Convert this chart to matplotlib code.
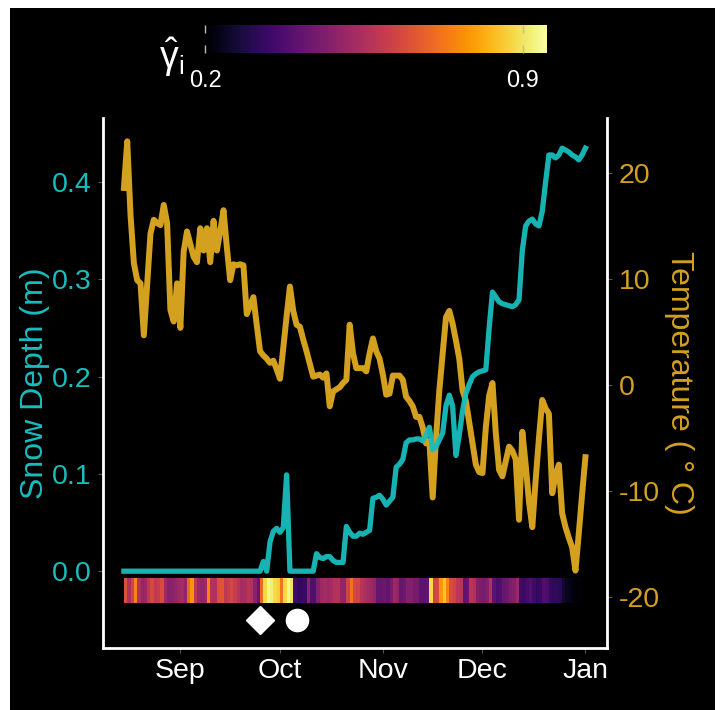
import numpy as np
import matplotlib
matplotlib.use("Agg")
from matplotlib import pyplot as plt
import matplotlib.dates as mdates
from matplotlib.patches import Rectangle
from matplotlib.colors import Normalize
from matplotlib.cm import ScalarMappable

plt.rcParams['font.family'] = ['Liberation Sans', 'DejaVu Sans']
plt.rcParams['mathtext.fontset'] = 'custom'
plt.rcParams['mathtext.rm'] = 'Liberation Sans'
plt.rcParams['mathtext.it'] = 'Liberation Sans:italic'
plt.rcParams['axes.unicode_minus'] = False

# daily series, 15 Aug -> 1 Jan
start = np.datetime64('2019-08-15')

snow_depth = [0.0, 0.0, 0.0, 0.0, 0.0, 0.0, 0.0, 0.0, 0.0, 0.0,
              0.0, 0.0, 0.0, 0.0, 0.0, 0.0, 0.0, 0.0, 0.0, 0.0,
              0.0, 0.0, 0.0, 0.0, 0.0, 0.0, 0.0, 0.0, 0.0, 0.0,
              0.0, 0.0, 0.0, 0.0, 0.0, 0.0, 0.0, 0.0, 0.0, 0.0,
              0.0, 0.0, 0.010, 0.0, 0.030, 0.041, 0.044, 0.040, 0.045, 0.099,
              0.0, 0.0, 0.0, 0.0, 0.0, 0.0, 0.0, 0.0, 0.018, 0.014,
              0.013, 0.015, 0.015, 0.011, 0.009, 0.009, 0.009, 0.046, 0.040, 0.036,
              0.036, 0.039, 0.038, 0.040, 0.042, 0.075, 0.076, 0.078, 0.074, 0.068,
              0.072, 0.076, 0.107, 0.110, 0.115, 0.132, 0.135, 0.135, 0.136, 0.136,
              0.134, 0.140, 0.148, 0.125, 0.128, 0.135, 0.142, 0.170, 0.181, 0.170,
              0.119, 0.140, 0.165, 0.183, 0.192, 0.200, 0.203, 0.205, 0.206, 0.207,
              0.250, 0.287, 0.282, 0.277, 0.275, 0.274, 0.273, 0.272, 0.274, 0.279,
              0.330, 0.355, 0.360, 0.362, 0.357, 0.355, 0.370, 0.400, 0.428, 0.428,
              0.425, 0.428, 0.435, 0.433, 0.431, 0.428, 0.426, 0.423, 0.428, 0.435]

temperature = [18.6, 23.0, 16.0, 11.5, 9.9, 9.6, 4.7, 9.5, 14.3, 15.6,
               15.3, 15.1, 17.0, 15.3, 7.1, 6.0, 9.6, 5.4, 12.6, 14.5,
               13.3, 12.1, 11.6, 14.8, 12.7, 14.8, 11.6, 15.5, 12.7, 14.5,
               16.5, 13.0, 9.9, 11.4, 11.3, 11.4, 11.3, 6.7, 7.5, 8.3,
               5.7, 3.2, 2.8, 2.5, 2.1, 2.3, 1.5, 0.6, 3.5, 6.5,
               9.3, 7.0, 5.7, 5.5, 4.3, 3.2, 2.0, 0.8, 0.9, 1.0,
               0.7, 1.1, -2.0, -0.6, -0.4, -0.2, 0.2, 0.5, 5.7, 3.0,
               1.6, 1.6, 1.6, 1.3, 3.0, 4.4, 3.2, 2.5, 1.0, -0.9,
               -0.8, 0.9, 0.9, 0.9, 0.5, -1.1, -1.5, -2.0, -3.0, -3.0,
               -4.0, -5.5, -5.3, -10.6, -5.0, -0.5, 3.0, 6.4, 7.0, 5.8,
               4.2, 2.5, -0.5, -1.5, -3.5, -5.5, -7.5, -8.2, -8.3, -4.0,
               -1.0, 0.2, -4.5, -8.0, -8.6, -7.2, -5.8, -6.2, -7.0, -12.7,
               -4.4, -7.5, -11.0, -13.4, -9.0, -5.0, -1.4, -2.2, -2.7, -10.2,
               -8.5, -7.5, -12.1, -13.4, -14.4, -15.3, -17.5, -14.0, -10.3, -6.8]

# one value per day cell of the strip
gamma_hat = [0.65, 0.55, 0.62, 0.75, 0.55, 0.50, 0.52, 0.58, 0.63, 0.58,
             0.60, 0.64, 0.52, 0.48, 0.48, 0.50, 0.52, 0.53, 0.50, 0.70,
             0.78, 0.58, 0.52, 0.50, 0.52, 0.75, 0.56, 0.55, 0.65, 0.66,
             0.58, 0.60, 0.63, 0.60, 0.57, 0.53, 0.54, 0.57, 0.56, 0.48,
             0.42, 0.70, 0.88, 0.93, 0.92, 0.88, 0.86, 0.72, 0.88, 0.93,
             0.90, 0.35, 0.33, 0.33, 0.34, 0.48, 0.38, 0.38, 0.47, 0.52,
             0.53, 0.52, 0.53, 0.56, 0.56, 0.50, 0.50, 0.62, 0.72, 0.63,
             0.62, 0.57, 0.55, 0.53, 0.52, 0.50, 0.42, 0.42, 0.43, 0.41,
             0.45, 0.52, 0.50, 0.42, 0.43, 0.47, 0.47, 0.45, 0.45, 0.40,
             0.40, 0.41, 0.88, 0.62, 0.63, 0.78, 0.85, 0.75, 0.64, 0.62,
             0.58, 0.57, 0.40, 0.42, 0.57, 0.55, 0.47, 0.46, 0.45, 0.47,
             0.56, 0.40, 0.37, 0.38, 0.42, 0.43, 0.46, 0.47, 0.52, 0.35,
             0.34, 0.36, 0.38, 0.35, 0.33, 0.34, 0.38, 0.37, 0.33, 0.32,
             0.32, 0.31, 0.26, 0.24, 0.23, 0.22, 0.21, 0.21, 0.20]

diamond_date = np.datetime64('2019-09-25')
circle_date = np.datetime64('2019-10-06')
event_level = -0.05

month_ticks = ['2019-09-01', '2019-10-01', '2019-11-01', '2019-12-01', '2020-01-01']
month_labels = ['Sep', 'Oct', 'Nov', 'Dec', 'Jan']

gamma_min, gamma_max = 0.2, 0.953

snow_col = '#19BDBD'
temp_col = '#D4A020'

days = mdates.date2num(start + np.arange(len(snow_depth)))
edges = mdates.date2num(start + np.arange(len(gamma_hat) + 1))
t0 = mdates.date2num(start)

fig = plt.figure(figsize=(7.2, 7.1), dpi=100, facecolor='white')
fig.add_artist(Rectangle((10 / 720, 0), 705 / 720, 702 / 710, transform=fig.transFigure,
                         facecolor='black', edgecolor='none', zorder=-10))

ax = fig.add_axes([103 / 720, 1 - 648 / 710, 504 / 720, 530 / 710])
ax2 = ax.twinx()
ax.set_zorder(ax2.get_zorder() + 1)
ax.patch.set_visible(False)
ax2.patch.set_visible(False)

norm = Normalize(vmin=gamma_min, vmax=gamma_max)

ax2.plot(days, temperature, color=temp_col, lw=4.3, solid_joinstyle='round')
ax.plot(days, snow_depth, color=snow_col, lw=3.8, solid_joinstyle='round', alpha=0.95)
ax.pcolormesh(edges, [-0.033, -0.0075], [gamma_hat], cmap='inferno', norm=norm)
ax.plot([mdates.date2num(diamond_date)], [event_level], marker='D', ms=14, color='white', ls='none')
ax.plot([mdates.date2num(circle_date)], [event_level], marker='o', ms=16, color='white', ls='none')

ax.set_xlim(t0 - 6.3, t0 + 145.5)
ax.set_ylim(-0.079, 0.466)
ax2.set_ylim(-24.8, 25.2)

ax.set_xticks(mdates.date2num(np.array(month_ticks, dtype='datetime64[D]')))
ax.set_xticklabels(month_labels)
ax.set_yticks([0.0, 0.1, 0.2, 0.3, 0.4])
ax.set_yticklabels(['0.0', '0.1', '0.2', '0.3', '0.4'])
ax2.set_yticks([-20, -10, 0, 10, 20])

for a in (ax, ax2):
    for s in a.spines.values():
        s.set_visible(False)
ax.spines['left'].set_visible(True)
ax.spines['bottom'].set_visible(True)
ax2.spines['right'].set_visible(True)
for s in (ax.spines['left'], ax.spines['bottom'], ax2.spines['right']):
    s.set_color('white')
    s.set_linewidth(2)

ax.tick_params(axis='x', color='#555555', labelcolor='white', labelsize=20.5, length=3.5, pad=4)
ax.tick_params(axis='y', color='#555555', labelcolor=snow_col, labelsize=20.5, length=3.5, pad=5)
ax2.tick_params(axis='y', color='#555555', labelcolor=temp_col, labelsize=20.5, length=3.5, pad=5)

ax.set_ylabel('Snow Depth (m)', color=snow_col, fontsize=23, labelpad=1)
ax2.set_ylabel('Temperature ( ° C)', color=temp_col, fontsize=23, rotation=-90, va='bottom', labelpad=3)

# colour key on top
cax = fig.add_axes([205 / 720, 1 - 53 / 710, 342 / 720, 28 / 710])
cb = fig.colorbar(ScalarMappable(norm=norm, cmap='inferno'), cax=cax, orientation='horizontal')
cb.set_ticks([0.2, 0.9])
cb.set_ticklabels(['0.2', '0.9'])
cb.outline.set_visible(False)
cax.tick_params(axis='x', direction='in', length=6, width=1, color='#bbbbbb', top=True,
                labelcolor='white', labelsize=17, pad=12)
fig.text(172 / 720, 1 - 57 / 710, r'$\hat{\mathrm{\gamma}}_\mathrm{i}$', color='white',
         fontsize=27, ha='center', va='center')

fig.savefig('out.png', dpi=100, facecolor='white')
